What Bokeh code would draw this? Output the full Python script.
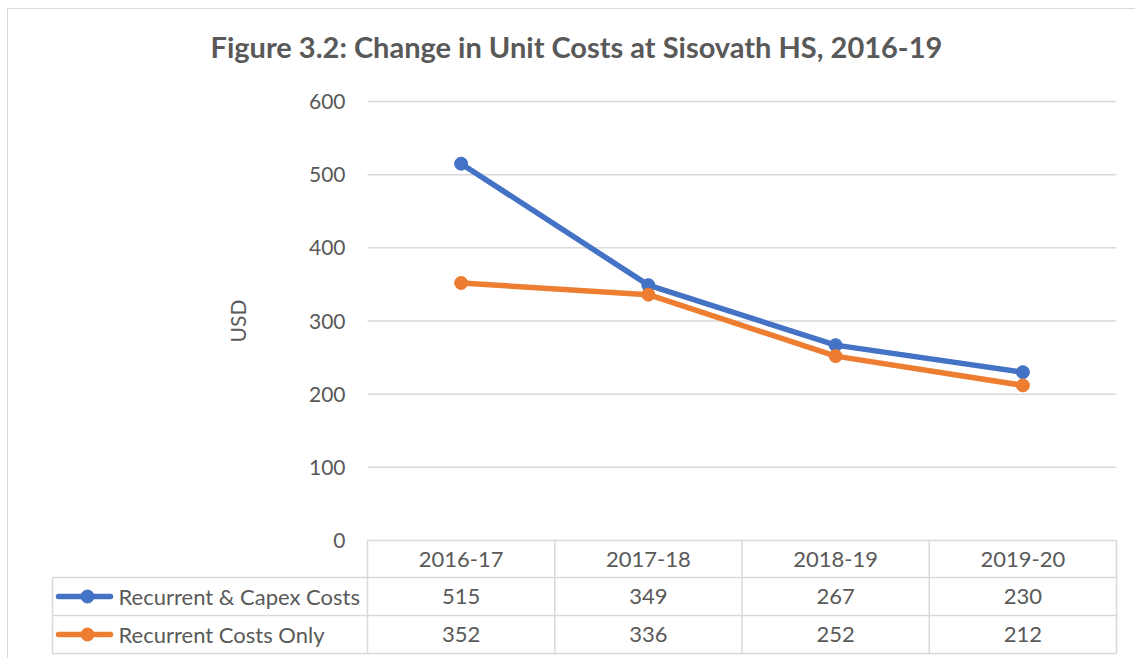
from bokeh.plotting import figure
from bokeh.models import Range1d, FixedTicker
from bokeh.embed import file_html
from bokeh.resources import INLINE
from bokeh.core.properties import value
import math

# ---------------- data ----------------
categories = ["2016-17", "2017-18", "2018-19", "2019-20"]
series_names = ["Recurrent & Capex Costs", "Recurrent Costs Only"]
capex_costs = [515, 349, 267, 230]
recurrent_costs = [352, 336, 252, 212]
y_ticks = [0, 100, 200, 300, 400, 500, 600]
series_colors = ["#4472C4", "#ED7D31"]
title_text = "Figure 3.2: Change in Unit Costs at Sisovath HS, 2016-19"
y_label = "USD"

# ---------------- layout helpers (page pixels -> data units) ----------------
FONT = "Lato"
TXT = "#595959"
GRID = "#D9D9D9"
OX, OY = 8, 9             # top-left of the drawing area on the page
W, H = 1136 - OX, 659 - OY
TOP = 64
COL_PX = 749 / 4          # pixel width of one category column
PX_PER_USD = 439 / 600    # vertical pixels per USD


def px_x(page_x):
    return 0.5 + (page_x - 367) / COL_PX


def px_y(page_y):
    return (540 - page_y) / PX_PER_USD


n = len(categories)
xs = [i + 1 for i in range(n)]
bounds = [i + 0.5 for i in range(n + 1)]
series = [capex_costs, recurrent_costs]

p = figure(width=W, height=H, output_backend="svg", toolbar_location=None,
           x_range=Range1d(px_x(OX), px_x(OX + W)),
           y_range=Range1d(px_y(OY + H), px_y(OY + TOP)),
           x_axis_location=None, title=title_text,
           min_border_left=0, min_border_right=0, min_border_top=TOP,
           min_border_bottom=0,
           styles={"margin-left": "7px", "margin-top": "8px",
                   "border-left": "1px solid #D9D9D9",
                   "border-top": "1px solid #D9D9D9"})
p.outline_line_color = None
p.background_fill_color = "white"
p.border_fill_color = "white"
p.grid.grid_line_color = None

p.title.text_font = FONT
p.title.text_font_style = "bold"
p.title.text_font_size = "29px"
p.title.text_color = TXT
p.title.align = "left"
p.title.offset = 210 - OX
p.title.standoff = 20

# y axis: labels sit left of the plot area, inside the wide frame
p.yaxis.ticker = FixedTicker(ticks=y_ticks)
p.yaxis.axis_line_color = None
p.yaxis.major_tick_line_color = None
p.yaxis.minor_tick_line_color = None
p.yaxis.major_label_standoff = -(351 - OX)
p.yaxis.major_label_text_font = FONT
p.yaxis.major_label_text_font_size = "21px"
p.yaxis.major_label_text_color = TXT

# gridlines
p.segment(x0=[bounds[0]] * len(y_ticks), y0=y_ticks, x1=[bounds[-1]] * len(y_ticks),
          y1=y_ticks, line_color=GRID, line_width=1.5)

# y title
p.text(x=[px_x(237)], y=[300], text=[y_label], angle=math.pi / 2,
       text_font=value(FONT), text_font_size="21px", text_color=TXT,
       text_align="center", text_baseline="middle")

# ---------------- data table ----------------
row_tops = [540, 577, 615, 653]
# header cell borders
p.segment(x0=bounds, y0=[0] * len(bounds), x1=bounds, y1=[px_y(653)] * len(bounds),
          line_color=GRID, line_width=1.5)
# row borders
x_left = px_x(52)
p.segment(x0=[x_left] * 3, y0=[px_y(v) for v in row_tops[1:]],
          x1=[bounds[-1]] * 3, y1=[px_y(v) for v in row_tops[1:]],
          line_color=GRID, line_width=1.5)
p.segment(x0=[x_left], y0=[px_y(577)], x1=[x_left], y1=[px_y(653)],
          line_color=GRID, line_width=1.5)

p.text(x=xs, y=[px_y(558.5)] * n, text=categories,
       text_font=value(FONT), text_font_size="22px", text_color=TXT,
       text_align="center", text_baseline="middle")

for r, (name, vals, col) in enumerate(zip(series_names, series, series_colors)):
    yc = px_y((row_tops[r + 1] + row_tops[r + 2]) / 2)
    p.line([px_x(58), px_x(110)], [yc, yc], line_color=col, line_width=5.5,
           line_cap="round")
    p.scatter([px_x(87)], [yc], size=13, fill_color=col, line_color=col)
    p.text(x=[px_x(118)], y=[yc], text=[name], text_font=value(FONT),
           text_font_size="22px", text_color=TXT, text_align="left",
           text_baseline="middle")
    p.text(x=xs, y=[yc] * n, text=[str(v) for v in vals], text_font=value(FONT),
           text_font_size="22px", text_color=TXT, text_align="center",
           text_baseline="middle")

# ---------------- series ----------------
for vals, col in zip(series, series_colors):
    p.line(xs, vals, line_color=col, line_width=5.5, line_join="round")
    p.scatter(xs, vals, size=13, fill_color=col, line_color=col)

open("out.html", "w").write(file_html(p, INLINE))
